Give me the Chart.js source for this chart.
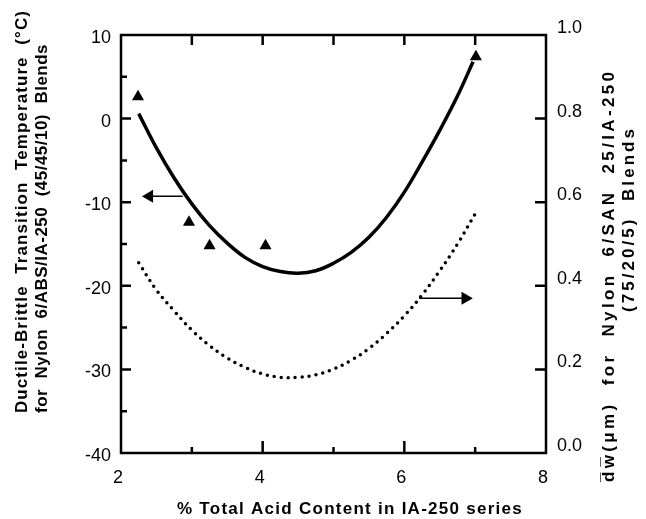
<!DOCTYPE html>
<html>
<head>
<meta charset="utf-8">
<script src="https://cdn.jsdelivr.net/npm/chart.js@4/dist/chart.umd.min.js"></script>
<style>
  html, body { margin: 0; padding: 0; background: #fff; }
  #wrap { width: 646px; height: 519px; }
</style>
</head>
<body>
<div id="wrap"><canvas id="chart" width="646" height="519"></canvas></div>
<script>
/* 측정점 (삼각형) */
const acidContent = [2.24, 2.96, 3.25, 4.04, 7.01];
const transitionTemp = [2.6, -12.4, -15.2, -15.2, 7.4];

/* 실선 - 전이온도 곡선 */
const tempCurveX = [2.25, 2.5, 2.75, 3.0, 3.25, 3.5, 3.75, 4.0, 4.25, 4.5, 4.75, 5.0, 5.25, 5.5, 5.75, 6.0, 6.25, 6.5, 6.75, 6.97];
const tempCurveY = [0.6, -3.5, -7.1, -10.2, -12.8, -14.9, -16.6, -17.7, -18.3, -18.5, -18.2, -17.3, -16.0, -14.2, -11.8, -8.8, -5.2, -1.4, 2.7, 6.8];

/* 점선 - 입자 크기 곡선 (오른쪽 축) */
const sizeCurveX = [2.25, 2.5, 2.75, 3.0, 3.25, 3.5, 3.75, 4.0, 4.25, 4.5, 4.75, 5.0, 5.25, 5.5, 5.75, 6.0, 6.25, 6.5, 6.75, 7.0];
const sizeCurveY = [0.455, 0.39, 0.34, 0.294, 0.257, 0.227, 0.205, 0.189, 0.181, 0.181, 0.187, 0.201, 0.222, 0.25, 0.286, 0.328, 0.378, 0.436, 0.5, 0.572];

/* 화살표 */
const leftArrowX = [2.87, 2.4];
const leftArrowY = [-9.3, -9.3];
const rightArrowX = [6.21, 6.86];
const rightArrowY = [0.37, 0.37];

/* 축 */
const xRange = [2, 8];
const tempRange = [-40, 10];
const sizeRange = [0, 1];
const xMinorTicks = [3, 5, 7];
const xMajorTicks = [4, 6];
const tempMinorTicks = [5, -5, -15, -25, -35];
const tempMajorTicks = [0, -10, -20, -30];
const sizeTicks = [0.2, 0.4, 0.6, 0.8];

const xTitle = "% Total Acid Content in IA-250 series";
const leftTitle = ["Ductile-Brittle  Transition  Temperature  (°C)", "for  Nylon  6/ABS/IA-250  (45/45/10)  Blends"];
const rightTitle = ["d\u0305w\u0305(μm)  for  Nylon  6/SAN  25/IA-250", "(75/20/5)  Blends"];

const tickFont = { family: "'Liberation Sans', Arial, sans-serif", size: 18 };
const titleFont = "bold 17px 'Liberation Sans', Arial, sans-serif";

const toPoints = (xs, ys) => xs.map((x, i) => ({ x: x, y: ys[i] }));

// 글자 간격을 늘려서 정해진 길이에 맞춰 쓰기
function spacedText(ctx, text, x, y, length, angle) {
  ctx.save();
  ctx.translate(x, y);
  ctx.rotate(angle);
  ctx.letterSpacing = "0px";
  const w = ctx.measureText(text).width;
  const gap = Math.max(0, (length - w) / text.length);
  ctx.letterSpacing = gap + "px";
  ctx.textAlign = "left";
  ctx.fillText(text, 0, 0);
  ctx.restore();
}

// 테두리, 안쪽 눈금, 축 제목
const frameAndTitles = {
  id: "frameAndTitles",
  afterDraw(chart) {
    const ctx = chart.ctx;
    const area = chart.chartArea;
    const x = chart.scales.x, y = chart.scales.y, y2 = chart.scales.y2;
    ctx.save();
    ctx.strokeStyle = "#000";
    ctx.lineWidth = 2.5;
    ctx.strokeRect(area.left, area.top, area.right - area.left, area.bottom - area.top);

    ctx.beginPath();
    xMinorTicks.concat(xMajorTicks).forEach((v) => {
      const px = x.getPixelForValue(v);
      const len = xMajorTicks.includes(v) ? 12 : 6;
      ctx.moveTo(px, area.bottom);
      ctx.lineTo(px, area.bottom - len);
      ctx.moveTo(px, area.top);
      ctx.lineTo(px, area.top + 10);
    });
    tempMinorTicks.concat(tempMajorTicks).forEach((v) => {
      const py = y.getPixelForValue(v);
      const len = tempMajorTicks.includes(v) ? 10 : 6;
      ctx.moveTo(area.left, py);
      ctx.lineTo(area.left + len, py);
    });
    sizeTicks.forEach((v) => {
      const py = y2.getPixelForValue(v);
      ctx.moveTo(area.right, py);
      ctx.lineTo(area.right - 11, py);
    });
    ctx.stroke();

    ctx.fillStyle = "#000";
    ctx.font = titleFont;
    ctx.textBaseline = "alphabetic";
    spacedText(ctx, xTitle, 177, 514, 346, 0);
    spacedText(ctx, leftTitle[0], 27, 413, 403, -Math.PI / 2);
    spacedText(ctx, leftTitle[1], 47, 413, 369, -Math.PI / 2);
    spacedText(ctx, rightTitle[0], 614, 482, 420, -Math.PI / 2);
    spacedText(ctx, rightTitle[1], 634, 312, 186, -Math.PI / 2);
    ctx.restore();
  },
};

const ctx = document.getElementById("chart").getContext("2d");

new Chart(ctx, {
  type: "scatter",
  data: {
    datasets: [
      {
        data: toPoints(acidContent, transitionTemp),
        yAxisID: "y",
        pointStyle: "triangle",
        pointRadius: 7,
        backgroundColor: "#000",
        borderColor: "#000",
        borderWidth: 0,
      },
      {
        data: toPoints(tempCurveX, tempCurveY),
        yAxisID: "y",
        showLine: true,
        borderColor: "#000",
        borderWidth: 3.5,
        pointRadius: 0,
        tension: 0.4,
      },
      {
        data: toPoints(sizeCurveX, sizeCurveY),
        yAxisID: "y2",
        showLine: true,
        borderColor: "#000",
        borderWidth: 3.5,
        borderDash: [0, 7],
        borderCapStyle: "round",
        pointRadius: 0,
        tension: 0.4,
      },
      {
        data: toPoints(leftArrowX, leftArrowY),
        yAxisID: "y",
        showLine: true,
        borderColor: "#000",
        borderWidth: 1.5,
        backgroundColor: "#000",
        pointStyle: "triangle",
        pointRadius: [0, 6],
        rotation: -90,
      },
      {
        data: toPoints(rightArrowX, rightArrowY),
        yAxisID: "y2",
        showLine: true,
        borderColor: "#000",
        borderWidth: 1.5,
        backgroundColor: "#000",
        pointStyle: "triangle",
        pointRadius: [0, 6],
        rotation: 90,
      },
    ],
  },
  options: {
    responsive: false,
    animation: false,
    layout: { padding: { top: 35 } },
    plugins: {
      legend: { display: false },
      tooltip: { enabled: false },
    },
    scales: {
      x: {
        type: "linear",
        min: xRange[0],
        max: xRange[1],
        grid: { display: false, drawTicks: false },
        border: { display: false },
        ticks: { stepSize: 2, color: "#000", font: tickFont, padding: 14, labelOffset: -3 },
        afterFit: (s) => { s.height = 66; },
      },
      y: {
        position: "left",
        min: tempRange[0],
        max: tempRange[1],
        grid: { display: false, drawTicks: false },
        border: { display: false },
        ticks: { stepSize: 10, color: "#000", font: tickFont, padding: 10, labelOffset: 3 },
        afterFit: (s) => { s.width = 121; },
      },
      y2: {
        position: "right",
        min: sizeRange[0],
        max: sizeRange[1],
        grid: { display: false, drawTicks: false },
        border: { display: false },
        ticks: { stepSize: 0.2, color: "#000", font: tickFont, padding: 11, labelOffset: -7, callback: (v) => v.toFixed(1) },
        afterFit: (s) => { s.width = 100; },
      },
    },
  },
  plugins: [frameAndTitles],
});
</script>
</body>
</html>
